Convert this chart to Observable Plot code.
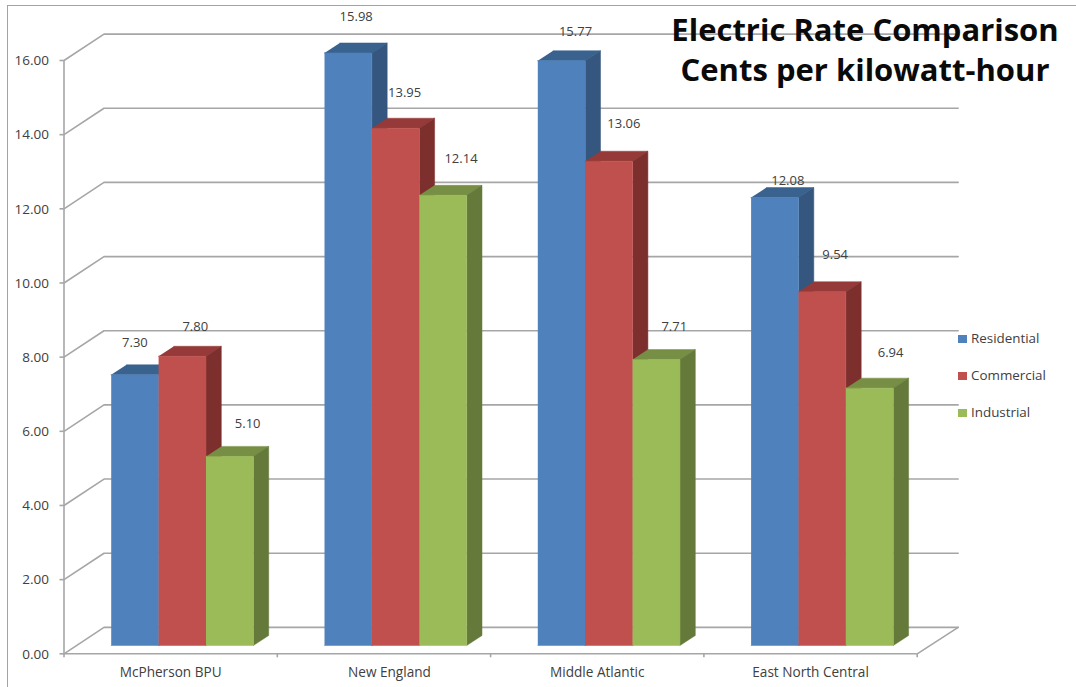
<!DOCTYPE html>
<html>
<head>
<meta charset="utf-8">
<script src="https://cdn.jsdelivr.net/npm/d3@7"></script>
<script src="https://cdn.jsdelivr.net/npm/@observablehq/plot@0.6"></script>
<style>
  html, body { margin: 0; padding: 0; background: #fff; }
  body { position: relative; width: 1076px; height: 687px; overflow: hidden; font-family: "Open Sans", sans-serif; }
  svg { display: block; position: absolute; left: 0; top: 0; }
  #frame { position: absolute; left: 7px; top: 5px; width: 1080px; height: 700px; border-left: 1.5px solid #a3a3a3; border-top: 1.5px solid #a3a3a3; }
  #title { position: absolute; left: 640px; width: 450px; top: 9px; text-align: center; font: 700 31px/40px "Open Sans", sans-serif; color: #0a0a0a; }
  #legend { position: absolute; left: 958px; top: 329px; font-size: 13.4px; color: #404040; }
  #legend div { height: 37px; line-height: 19px; white-space: nowrap; }
  #legend i { display: inline-block; width: 9px; height: 8px; margin-right: 4px; vertical-align: 0; }
</style>
</head>
<body>
<div id="frame"></div>
<div id="chart"></div>
<div id="title">Electric Rate Comparison<br>Cents per kilowatt-hour</div>
<div id="legend"></div>
<script>
const categories = ["McPherson BPU", "New England", "Middle Atlantic", "East North Central"];
const seriesNames = ["Residential", "Commercial", "Industrial"];
const residential = [7.30, 15.98, 15.77, 12.08];
const commercial = [7.80, 13.95, 13.06, 9.54];
const industrial = [5.10, 12.14, 7.71, 6.94];
const yTicks = [0, 2, 4, 6, 8, 10, 12, 14, 16];
const frontColors = ["#4f81bd", "#c0504d", "#9bbb59"];
const sideColors = ["#35567f", "#7c2f2d", "#64793a"];
const topColors = ["#39628f", "#953a38", "#768f44"];

// Pseudo-3D projection, expressed in axis units
const PX_X = 213.3, PX_Y = 37.08;
const wallX = 40 / PX_X, wallY = 26.4 / PX_Y, wallEnd = 4.192;
const barStart = 47.2 / PX_X, barW = 47.4 / PX_X, baseY = 8.3 / PX_Y;
const depthX = 15.3 / PX_X, depthY = 10 / PX_Y;

const seriesValues = [residential, commercial, industrial];
const faces = [], labels = [];
// label placement relative to its bar: [right, up] in pixels
const labelNudge = [
  [[0, 32], [13, 29], [18, 33]],
  [[8, 36], [9, 35], [18, 37]],
  [[14, 29], [15, 37], [18, 33]],
  [[13, 17], [13, 37], [21, 35]]
];
categories.forEach((c, i) => {
  seriesValues.forEach((vals, s) => {
    const v = vals[i];
    const x0 = i + barStart + s * barW, x1 = x0 + barW;
    const top = v + baseY;
    const id = `${i}-${s}`;
    const poly = (name, color, pts) => pts.forEach(([x, y]) => faces.push({id: id + name, color, x, y}));
    poly("t", topColors[s], [[x0, top], [x1, top], [x1 + depthX, top + depthY], [x0 + depthX, top + depthY]]);
    poly("s", sideColors[s], [[x1, baseY], [x1 + depthX, baseY + depthY], [x1 + depthX, top + depthY], [x1, top]]);
    poly("f", frontColors[s], [[x0, baseY], [x1, baseY], [x1, top], [x0, top]]);
    const [nx, ny] = labelNudge[i][s];
    labels.push({x: x0 + barW / 2 + nx / PX_X, y: top + ny / PX_Y, text: v.toFixed(2)});
  });
});

const grid = [];
yTicks.forEach(t => {
  grid.push({t, x: 0, y: t}, {t, x: wallX, y: t + wallY}, {t, x: wallEnd, y: t + wallY});
});
const floorEdge = [{x: 4, y: 0}, {x: wallEnd, y: wallY}];
const gray = "#a6a6a6", ink = "#404040";

const chart = Plot.plot({
  width: 1076,
  height: 687,
  marginLeft: 63.5,
  marginRight: 159.3,
  marginTop: 60,
  marginBottom: 33.7,
  style: {background: "transparent", overflow: "visible", fontFamily: "'Open Sans', sans-serif"},
  x: {type: "linear", domain: [0, 4], axis: null},
  y: {type: "linear", domain: [0, 16], axis: null},
  marks: [
    Plot.line(grid, {x: "x", y: "y", z: "t", stroke: gray, strokeWidth: 1.6}),
    Plot.line(floorEdge, {x: "x", y: "y", stroke: gray, strokeWidth: 1.6}),
    Plot.ruleX([0], {y1: 0, y2: 16, stroke: gray, strokeWidth: 1.6}),
    Plot.ruleY([0], {x1: 0, x2: 4, stroke: gray, strokeWidth: 1.6}),
    Plot.ruleY(yTicks, {y: d => d, x1: -4 / PX_X, x2: 0, stroke: gray, strokeWidth: 1.6}),
    Plot.ruleX([0, 1, 2, 3, 4], {x: d => d, y1: -4 / PX_Y, y2: 0, stroke: gray, strokeWidth: 1.6}),
    Plot.line(faces, {x: "x", y: "y", z: "id", fill: "color", stroke: "color", strokeWidth: 0.5}),
    Plot.text(yTicks, {x: 0, y: d => d, text: d => d.toFixed(2), dx: -15, dy: 0.5, textAnchor: "end", fontSize: 13.5, fill: ink}),
    Plot.text(categories, {x: (d, i) => i + 0.5, y: 0, dy: 19, text: d => d, fontSize: 13.6, fill: ink,
      filter: d => d !== "New England"}),
    Plot.text(["New England"], {x: () => 1.5, y: 0, dy: 19, dx: 5.5, text: d => d, fontSize: 13.6, fill: ink}),
    Plot.text(labels, {x: "x", y: "y", text: "text", fontSize: 13, fill: ink})
  ]
});
document.getElementById("chart").append(chart);

const legend = document.getElementById("legend");
seriesNames.forEach((n, i) => {
  const row = document.createElement("div");
  const sw = document.createElement("i");
  sw.style.background = frontColors[i];
  row.append(sw, n);
  legend.append(row);
});
</script>
</body>
</html>
